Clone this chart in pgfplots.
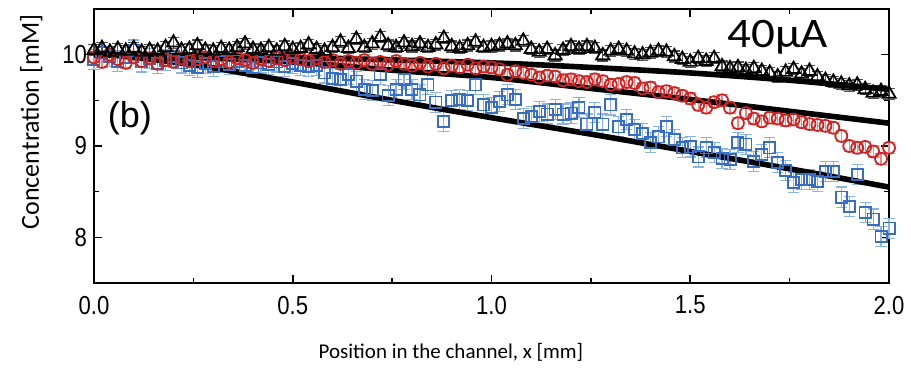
\documentclass[border=0pt]{standalone}
\usepackage{pgfplots}
\usepackage{pgfplotstable}
\pgfplotsset{compat=1.18}
\usepackage{fontspec}
\setmainfont{Carlito}
\newfontfamily\arialn{Liberation Sans}[FakeStretch=0.85]
\newfontfamily\arial{Liberation Sans}
\newfontfamily\carlwide{Carlito}[FakeStretch=1.12]
\definecolor{sqblue}{RGB}{55,110,195}
\definecolor{sqblueerr}{RGB}{140,180,225}
\definecolor{cired}{RGB}{205,35,35}
\definecolor{ciredeerr}{RGB}{235,135,135}
\definecolor{trierr}{RGB}{80,80,80}

\pgfplotstableread{
x y
0.00 10.05
0.02 10.07
0.04 10.03
0.06 10.06
0.08 10.04
0.10 10.07
0.12 10.03
0.14 10.05
0.16 10.04
0.18 10.08
0.20 10.13
0.22 10.05
0.24 10.06
0.26 10.10
0.28 10.05
0.30 10.04
0.32 10.07
0.34 10.05
0.36 10.08
0.38 10.12
0.40 10.06
0.42 10.05
0.44 10.08
0.46 10.04
0.48 10.09
0.50 10.06
0.52 10.07
0.54 10.11
0.56 10.06
0.58 10.04
0.60 10.08
0.62 10.14
0.64 10.07
0.66 10.17
0.68 10.08
0.70 10.12
0.72 10.19
0.74 10.10
0.76 10.08
0.78 10.13
0.80 10.09
0.82 10.12
0.84 10.08
0.86 10.11
0.88 10.18
0.90 10.09
0.92 10.07
0.94 10.10
0.96 10.14
0.98 10.08
1.00 10.09
1.02 10.10
1.04 10.12
1.06 10.10
1.08 10.15
1.10 10.06
1.12 10.03
1.14 10.06
1.16 9.99
1.18 10.05
1.20 10.09
1.22 10.06
1.24 10.09
1.26 10.07
1.28 9.99
1.30 10.04
1.32 10.06
1.34 10.04
1.36 10.01
1.38 10.00
1.40 10.02
1.42 10.04
1.44 10.03
1.46 9.98
1.48 9.95
1.50 9.92
1.52 9.96
1.54 9.93
1.56 9.96
1.58 9.87
1.60 9.85
1.62 9.86
1.64 9.83
1.66 9.85
1.68 9.82
1.70 9.80
1.72 9.76
1.74 9.81
1.76 9.84
1.78 9.79
1.80 9.82
1.82 9.76
1.84 9.72
1.86 9.70
1.88 9.68
1.90 9.66
1.92 9.67
1.94 9.62
1.96 9.58
1.98 9.60
2.00 9.57
}\tri

\pgfplotstableread{
x y
0.00 9.97
0.02 9.92
0.04 10.00
0.06 9.95
0.08 9.91
0.10 9.97
0.12 9.93
0.14 9.96
0.16 9.90
0.18 9.94
0.20 9.92
0.22 9.96
0.24 9.93
0.26 9.95
0.28 9.97
0.30 9.93
0.32 9.95
0.34 9.92
0.36 9.96
0.38 9.94
0.40 9.91
0.42 9.95
0.44 9.93
0.46 9.96
0.48 9.94
0.50 9.97
0.52 9.95
0.54 9.93
0.56 9.96
0.58 9.92
0.60 9.94
0.62 9.90
0.64 9.93
0.66 9.91
0.68 9.94
0.70 9.90
0.72 9.92
0.74 9.89
0.76 9.93
0.78 9.90
0.80 9.88
0.82 9.91
0.84 9.87
0.86 9.90
0.88 9.85
0.90 9.88
0.92 9.86
0.94 9.89
0.96 9.85
0.98 9.87
1.00 9.86
1.02 9.84
1.04 9.78
1.06 9.82
1.08 9.80
1.10 9.78
1.12 9.75
1.14 9.77
1.16 9.76
1.18 9.72
1.20 9.73
1.22 9.71
1.24 9.70
1.26 9.73
1.28 9.71
1.30 9.67
1.32 9.68
1.34 9.70
1.36 9.69
1.38 9.63
1.40 9.64
1.42 9.59
1.44 9.60
1.46 9.58
1.48 9.55
1.50 9.52
1.52 9.45
1.54 9.42
1.56 9.48
1.58 9.50
1.60 9.42
1.62 9.25
1.64 9.36
1.66 9.30
1.68 9.27
1.70 9.31
1.72 9.30
1.74 9.28
1.76 9.29
1.78 9.26
1.80 9.24
1.82 9.23
1.84 9.22
1.86 9.20
1.88 9.11
1.90 9.00
1.92 8.98
1.94 8.99
1.96 8.94
1.98 8.86
2.00 8.98
}\cir

\pgfplotstableread{
x y
0.00 9.95
0.02 10.02
0.04 9.98
0.06 9.93
0.08 9.97
0.10 10.05
0.12 9.92
0.14 9.96
0.16 9.90
0.18 9.94
0.20 9.98
0.22 9.91
0.24 9.88
0.26 9.86
0.28 9.90
0.30 9.87
0.32 9.92
0.34 9.89
0.36 9.93
0.38 9.88
0.40 9.86
0.42 9.91
0.44 9.89
0.46 9.92
0.48 9.87
0.50 9.90
0.52 9.88
0.54 9.87
0.56 9.88
0.58 9.80
0.60 9.74
0.62 9.73
0.64 9.78
0.66 9.71
0.68 9.62
0.70 9.61
0.72 9.78
0.74 9.55
0.76 9.62
0.78 9.73
0.80 9.62
0.82 9.56
0.84 9.67
0.86 9.48
0.88 9.27
0.90 9.50
0.92 9.51
0.94 9.50
0.96 9.67
0.98 9.45
1.00 9.42
1.02 9.49
1.04 9.56
1.06 9.51
1.08 9.30
1.10 9.32
1.12 9.38
1.14 9.35
1.16 9.40
1.18 9.35
1.20 9.36
1.22 9.42
1.24 9.24
1.26 9.37
1.28 9.24
1.30 9.45
1.32 9.21
1.34 9.29
1.36 9.18
1.38 9.14
1.40 9.04
1.42 9.10
1.44 9.21
1.46 9.07
1.48 8.98
1.50 8.99
1.52 8.88
1.54 8.98
1.56 8.93
1.58 8.86
1.60 8.85
1.62 9.04
1.64 9.02
1.66 8.83
1.68 8.91
1.70 8.98
1.72 8.82
1.74 8.73
1.76 8.60
1.78 8.63
1.80 8.63
1.82 8.61
1.84 8.72
1.86 8.72
1.88 8.44
1.90 8.34
1.92 8.69
1.94 8.27
1.96 8.20
1.98 8.01
2.00 8.10
}\sq

\begin{document}
\begin{tikzpicture}
\useasboundingbox (0,0) rectangle (455.5pt,184.5pt);
\begin{axis}[
  at={(47pt,43pt)}, anchor=south west,
  width=397.5pt, height=137pt, scale only axis,
  xmin=0, xmax=2, ymin=7.5, ymax=10.5,
  xtick={0,0.5,1,1.5,2}, minor x tick num=1,
  ytick={8,9,10}, minor y tick num=1,
  xtick pos=both, ytick pos=both, tick align=inside,
  major tick length=4pt, minor tick length=2.5pt,
  tick style={line width=0.8pt, black},
  axis line style={line width=0.9pt},
  /pgf/number format/assume math mode=true,
  xticklabel style={/pgf/number format/.cd, fixed, fixed zerofill, precision=1},
  ticklabel style={font=\arialn\fontsize{13}{15}\selectfont},
  xticklabel shift=3pt,
  yticklabel shift=0pt,
  xlabel={Position in the channel, x [mm]},
  ylabel={Concentration [mM]},
  xlabel style={font=\fontsize{10.5}{12}\selectfont, at={(axis description cs:0.449,-0.252)}, anchor=center},
  ylabel style={font=\fontsize{13}{15}\selectfont, at={(axis description cs:-0.079,0.588)}, anchor=center, rotate=0},
  clip=false,
]
\addplot[only marks, mark=square, mark size=2.8pt, color=sqblue, mark options={line width=0.9pt},
  error bars/.cd, y dir=both, y fixed=0.11,
  error bar style={color=sqblueerr, line width=0.6pt},
  error mark options={rotate=90, mark size=2.8pt, color=sqblueerr, line width=0.6pt}]
  table[x=x, y=y] {\sq};
\addplot[only marks, mark=o, mark size=3pt, color=cired, mark options={line width=0.9pt},
  error bars/.cd, y dir=both, y fixed=0.06,
  error bar style={color=ciredeerr, line width=0.6pt},
  error mark options={rotate=90, mark size=2.8pt, color=ciredeerr, line width=0.6pt}]
  table[x=x, y=y] {\cir};
\addplot[only marks, mark=triangle, mark size=3.8pt, color=black, mark options={line width=0.9pt},
  error bars/.cd, y dir=both, y fixed=0.06,
  error bar style={color=trierr, line width=0.6pt},
  error mark options={rotate=90, mark size=2.8pt, color=trierr, line width=0.6pt}]
  table[x=x, y=y] {\tri};
\addplot[black, line width=2.8pt, smooth] coordinates {(0,10.0) (0.5,9.97) (1.0,9.91) (1.25,9.86) (1.5,9.80) (1.75,9.72) (2.0,9.62)};
\addplot[black, line width=2.8pt, smooth] coordinates {(0,10.0) (0.25,9.97) (0.5,9.92) (0.75,9.83) (1.0,9.75) (1.25,9.63) (1.5,9.51) (1.75,9.38) (2.0,9.25)};
\addplot[black, line width=2.8pt, smooth] coordinates {(0,10.02) (0.25,9.89) (0.5,9.70) (0.75,9.50) (1.0,9.31) (1.25,9.13) (1.5,8.94) (1.75,8.75) (2.0,8.55)};
\node[anchor=base, font=\arial\fontsize{18}{20}\selectfont, inner sep=0pt] at (axis cs:0.09,9.20) {(b)};
\node[anchor=base, font=\carlwide\fontsize{21}{23}\selectfont, inner sep=0pt] at (axis cs:1.72,10.077) {40μA};
\end{axis}
\end{tikzpicture}
\end{document}
